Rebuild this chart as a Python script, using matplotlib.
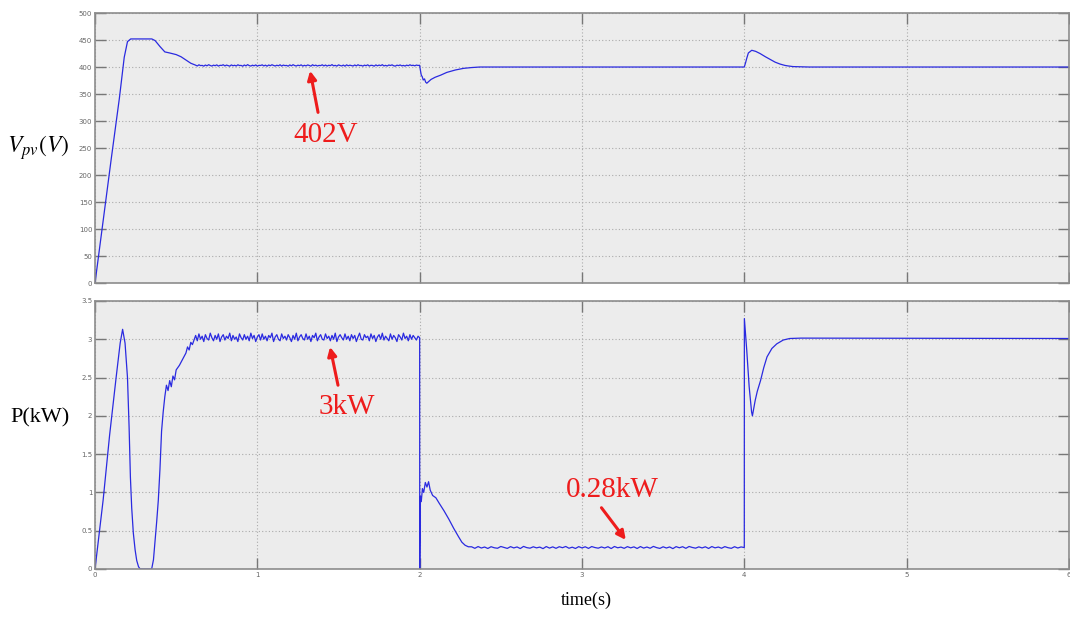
import numpy as np
import matplotlib.pyplot as plt
from matplotlib.ticker import MultipleLocator, FormatStrFormatter

plt.rcParams['mathtext.fontset'] = 'stix'

# ---- PV voltage (time in s, voltage in V) ----
v_start_t = [0.0, 0.05, 0.10, 0.15, 0.18, 0.20, 0.22, 0.35, 0.37, 0.40,
             0.43, 0.46, 0.50, 0.53, 0.56, 0.59]
v_start = [0, 115, 230, 342, 418, 447, 452, 452, 449, 438,
           428, 426, 423, 419, 413, 407]

v_ripple_t = np.linspace(0.62, 2.0, 139)
v_ripple = [403.4, 401.9, 404.1, 402.6, 403.0, 401.6, 403.7, 402.2, 404.3, 402.8,
            401.8, 403.5, 402.4, 404.0, 401.7, 403.2, 402.9, 404.2, 402.0, 403.6,
            402.5, 401.6, 403.9, 402.3, 403.3, 401.9, 404.1, 402.7, 403.0, 401.5,
            403.8, 402.1, 404.4, 402.6, 401.8, 403.4, 402.2, 403.9, 401.7, 403.1,
            402.8, 404.0, 402.0, 403.5, 401.6, 403.7, 402.4, 404.2, 402.9, 401.9,
            403.3, 402.3, 404.1, 401.8, 403.6, 402.6, 403.0, 401.6, 403.9, 402.2,
            404.3, 402.7, 401.9, 403.4, 402.5, 404.0, 401.7, 403.2, 402.1, 403.8,
            402.9, 401.6, 404.2, 402.4, 403.5, 401.9, 403.0, 402.6, 404.1, 402.0,
            403.7, 401.8, 403.3, 402.5, 404.4, 402.2, 403.1, 401.7, 403.9, 402.8,
            402.0, 403.6, 401.6, 404.0, 402.3, 403.4, 402.7, 401.9, 403.8, 402.1,
            404.2, 402.6, 403.0, 401.7, 403.5, 402.4, 404.1, 401.8, 403.2, 402.9,
            401.6, 403.9, 402.2, 403.6, 402.5, 404.3, 402.0, 403.1, 401.9, 403.7,
            402.8, 404.0, 402.3, 401.7, 403.4, 402.6, 403.8, 402.1, 403.0, 401.8,
            403.5, 402.4, 404.1, 402.7, 403.3, 402.2, 403.6, 402.9, 403.2]

v_step_t = [2.004, 2.01, 2.016, 2.022, 2.03, 2.037, 2.044, 2.055, 2.07, 2.095,
            2.13, 2.167, 2.22, 2.27, 2.32, 2.37, 2.45, 4.0, 4.008, 4.015,
            4.025, 4.046, 4.07, 4.097, 4.13, 4.16, 4.19, 4.22, 4.25, 4.27,
            4.30, 4.40, 6.0]
v_step = [395, 385, 382, 376, 378, 372, 370, 373, 377, 381,
          385, 390, 394.5, 397.5, 399, 400, 400, 400, 408, 416,
          426, 431, 429, 425, 419, 414, 409, 405.5, 403, 402,
          400.8, 400, 400]

# ---- PV power (time in s, power in kW) ----
p_start_t = [0.0, 0.02, 0.05, 0.09, 0.13, 0.155, 0.17, 0.185, 0.20, 0.21,
             0.218, 0.226, 0.236, 0.247, 0.257, 0.268, 0.278, 0.349, 0.36, 0.37,
             0.38, 0.39, 0.40, 0.41, 0.42, 0.43, 0.44, 0.45, 0.46, 0.47,
             0.48, 0.49, 0.50, 0.52, 0.54, 0.56, 0.57, 0.58, 0.59, 0.60]
p_start = [0.0, 0.36, 0.90, 1.75, 2.50, 2.95, 3.13, 2.95, 2.50, 1.85,
           1.20, 0.80, 0.47, 0.25, 0.11, 0.03, 0.0, 0.0, 0.12, 0.37,
           0.62, 0.90, 1.30, 1.80, 2.05, 2.25, 2.40, 2.33, 2.46, 2.38,
           2.52, 2.47, 2.60, 2.66, 2.74, 2.82, 2.90, 2.86, 2.96, 2.93]

p_ripple_t = np.linspace(0.62, 2.0, 139)
p_ripple = [3.05, 2.98, 3.07, 3.00, 3.04, 2.97, 3.06, 3.01, 2.99, 3.08,
            3.02, 2.98, 3.05, 3.00, 3.07, 2.97, 3.03, 3.06, 2.99, 3.04,
            3.01, 3.08, 2.98, 3.05, 3.00, 3.03, 2.97, 3.07, 3.02, 2.99,
            3.06, 3.00, 3.04, 2.98, 3.08, 3.01, 3.05, 2.97, 3.03, 3.06,
            2.99, 3.07, 3.00, 3.04, 2.98, 3.05, 3.02, 3.08, 2.97, 3.03,
            3.06, 3.00, 2.98, 3.07, 3.01, 3.04, 2.99, 3.06, 3.02, 2.97,
            3.05, 3.00, 3.08, 2.98, 3.03, 3.06, 3.01, 2.99, 3.07, 3.00,
            3.04, 2.97, 3.05, 3.02, 3.08, 2.98, 3.03, 3.06, 3.00, 2.99,
            3.07, 3.01, 3.04, 2.98, 3.05, 3.00, 3.08, 2.97, 3.03, 3.06,
            3.02, 2.99, 3.07, 3.00, 3.04, 2.98, 3.06, 3.01, 3.05, 2.97,
            3.03, 3.08, 3.00, 2.99, 3.06, 3.02, 3.04, 2.98, 3.07, 3.01,
            3.05, 2.97, 3.03, 3.06, 3.00, 3.08, 2.99, 3.04, 3.01, 2.98,
            3.07, 3.00, 3.05, 3.02, 2.97, 3.06, 3.03, 2.99, 3.08, 3.01,
            3.04, 2.98, 3.06, 3.00, 3.05, 3.02, 2.99, 3.04, 3.02]

p_drop_t = [2.0005, 2.002, 2.005, 2.01, 2.017, 2.025, 2.035, 2.045, 2.055, 2.065,
            2.08, 2.10, 2.12, 2.15, 2.18, 2.21, 2.24, 2.26, 2.28, 2.30]
p_drop = [0.0, 0.30, 0.95, 0.88, 1.05, 1.00, 1.13, 1.07, 1.14, 1.03,
          0.96, 0.93, 0.86, 0.76, 0.65, 0.53, 0.42, 0.35, 0.31, 0.29]

p_low_t = np.linspace(2.32, 4.0, 85)
p_low = [0.290, 0.270, 0.293, 0.274, 0.287, 0.268, 0.291, 0.277, 0.271, 0.294,
         0.282, 0.269, 0.292, 0.275, 0.288, 0.267, 0.295, 0.279, 0.272, 0.290,
         0.276, 0.286, 0.266, 0.293, 0.273, 0.289, 0.270, 0.291, 0.278, 0.294,
         0.271, 0.285, 0.268, 0.292, 0.275, 0.290, 0.269, 0.293, 0.280, 0.272,
         0.288, 0.274, 0.291, 0.267, 0.294, 0.277, 0.286, 0.270, 0.292, 0.276,
         0.289, 0.268, 0.293, 0.273, 0.287, 0.271, 0.295, 0.279, 0.269, 0.290,
         0.274, 0.288, 0.266, 0.292, 0.277, 0.291, 0.270, 0.294, 0.281, 0.272,
         0.289, 0.275, 0.290, 0.268, 0.293, 0.276, 0.287, 0.271, 0.292, 0.278,
         0.270, 0.291, 0.274, 0.288, 0.280]

p_rise_t = [4.0005, 4.015, 4.03, 4.045, 4.05, 4.055, 4.067, 4.08, 4.10, 4.12,
            4.14, 4.17, 4.20, 4.24, 4.28, 4.35, 6.0]
p_rise = [3.27, 2.86, 2.38, 2.05, 2.00, 2.06, 2.20, 2.32, 2.46, 2.63,
          2.77, 2.88, 2.94, 2.99, 3.01, 3.015, 3.01]

t_v = np.concatenate([v_start_t, v_ripple_t, v_step_t])
v_pv = np.concatenate([v_start, v_ripple, v_step])
t_p = np.concatenate([p_start_t, p_ripple_t, p_drop_t, p_low_t, p_rise_t])
p_pv = np.concatenate([p_start, p_ripple, p_drop, p_low, p_rise])

LINE = '#2a2ae0'
RED = '#ee1c1c'
BG = '#ececec'
SERIF = 'Liberation Serif'

fig = plt.figure(figsize=(10.70, 6.17), dpi=100)
ax1 = fig.add_axes([0.0888, 0.5413, 0.9102, 0.4376])
ax2 = fig.add_axes([0.0888, 0.0778, 0.9102, 0.4344])


def style(ax, ymax, ystep, fmt):
    ax.set_facecolor(BG)
    ax.set_xlim(0, 6)
    ax.set_ylim(0, ymax)
    ax.xaxis.set_major_locator(MultipleLocator(1))
    ax.yaxis.set_major_locator(MultipleLocator(ystep))
    ax.yaxis.set_major_formatter(FormatStrFormatter(fmt))
    ax.grid(True, linestyle=(0, (1, 2)), color='#ababab', linewidth=0.8)
    ax.tick_params(direction='in', length=8, width=1.0, color='#777777',
                   labelsize=5, labelcolor='#666666', top=True, right=True,
                   pad=2)
    for sp in ax.spines.values():
        sp.set_color('#8c8c8c')
        sp.set_linewidth(1.2)


style(ax1, 500, 50, '%g')
style(ax2, 3.5, 0.5, '%g')
ax1.tick_params(labelbottom=False)

ax1.plot(t_v, v_pv, color=LINE, linewidth=0.9)
ax2.plot(t_p, p_pv, color=LINE, linewidth=0.9)

# annotations
arrow = dict(arrowstyle='-|>', color=RED, lw=2.2, mutation_scale=13,
             shrinkA=0, shrinkB=0)
ax1.annotate('', xy=(1.325, 393), xytext=(1.374, 316), arrowprops=arrow)
ax1.text(1.42, 274, '402V', color=RED, fontsize=21, family=SERIF,
         ha='center', va='center')

ax2.annotate('', xy=(1.448, 2.90), xytext=(1.497, 2.40), arrowprops=arrow)
ax2.text(1.553, 2.11, '3kW', color=RED, fontsize=21, family=SERIF,
         ha='center', va='center')

ax2.annotate('', xy=(3.27, 0.38), xytext=(3.12, 0.80), arrowprops=arrow)
ax2.text(3.185, 1.03, '0.28kW', color=RED, fontsize=21, family=SERIF,
         ha='center', va='center')

# axis titles
fig.text(0.0355, 0.760, r'$V_{pv}(V)$', fontsize=17, ha='center', va='center')
fig.text(0.0374, 0.3225, 'P(kW)', fontsize=16, family=SERIF,
         ha='center', va='center')
fig.text(0.5477, 0.0276, 'time(s)', fontsize=13, family=SERIF,
         ha='center', va='center')

fig.savefig('out.png', dpi=100, facecolor='white')
